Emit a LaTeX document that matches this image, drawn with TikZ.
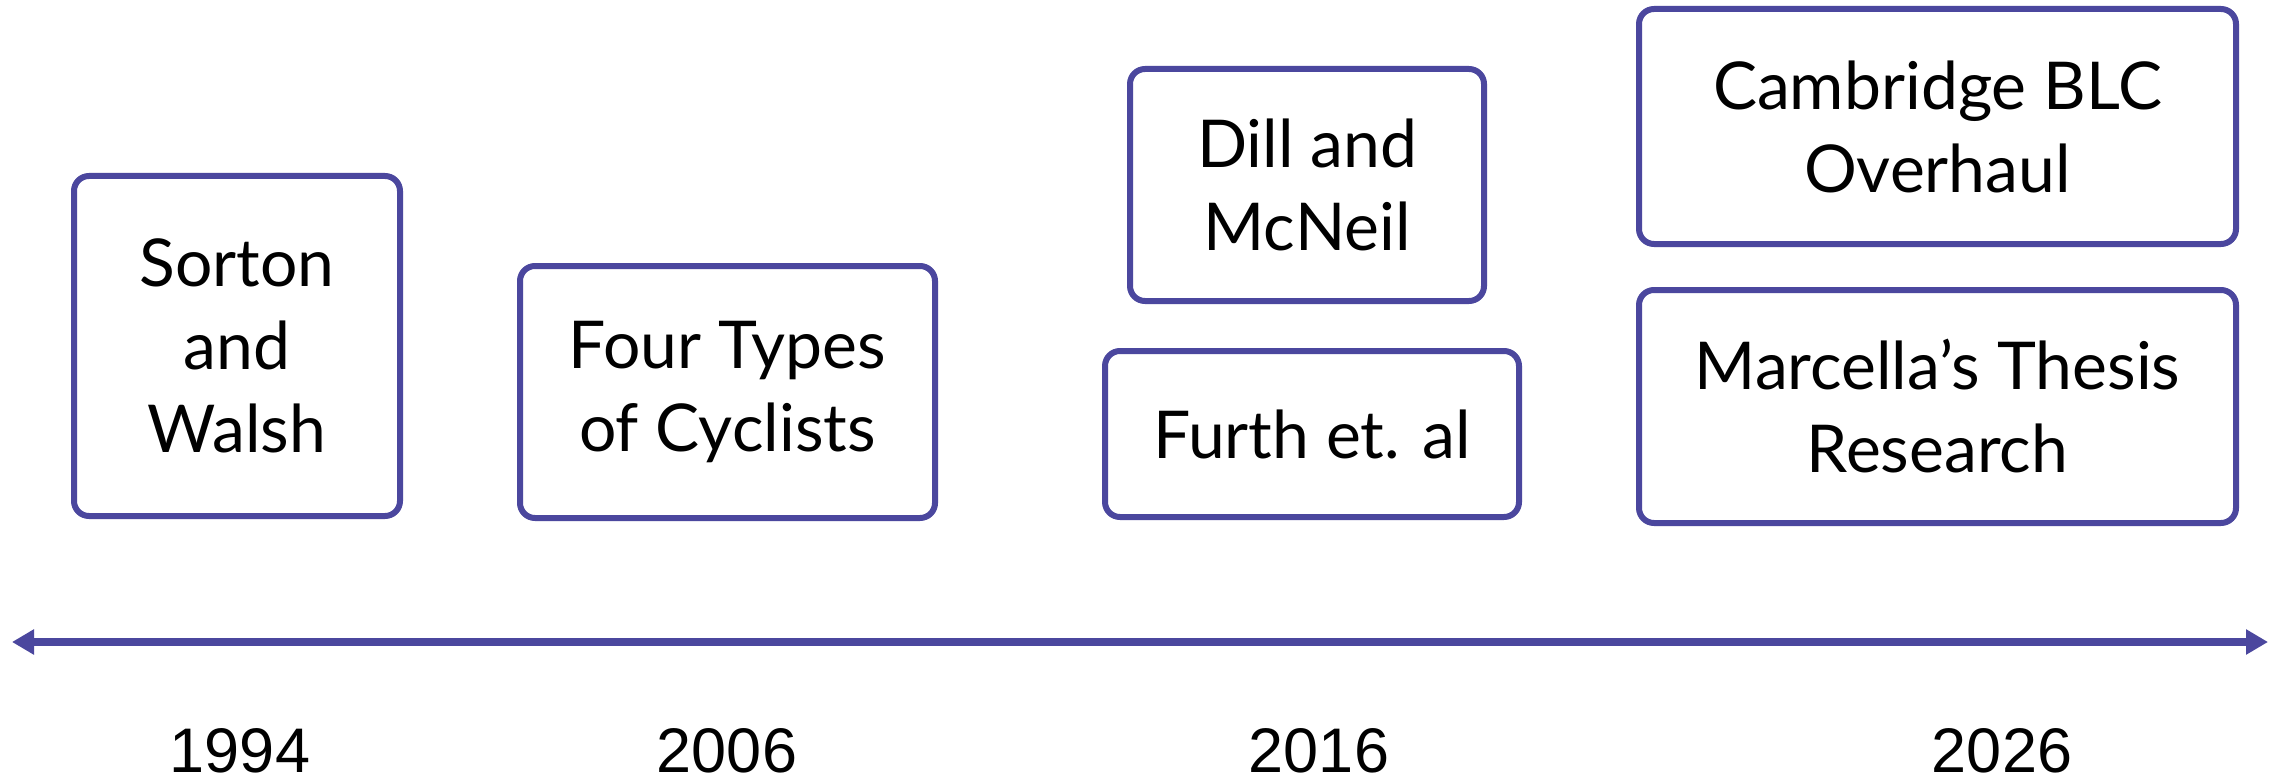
\documentclass[tikz,border=0pt]{standalone}
\usepackage{fontspec}
\setmainfont{Lato}
\newfontfamily\yearfont{Liberation Sans}
\usetikzlibrary{arrows.meta}
\definecolor{boxline}{RGB}{75,71,158}
\tikzset{
  event/.style={draw=boxline, line width=6pt, rounded corners=15pt, fill=white,
    align=center, inner sep=0pt, font=\fontsize{66}{83}\selectfont, text=black},
  yearlabel/.style={anchor=base, inner sep=0pt, font=\yearfont\fontsize{63}{70}\selectfont, text=black},
}
\begin{document}
\begin{tikzpicture}[x=1pt,y=-1pt]
\useasboundingbox (0,0) rectangle (2280,778);
\fill[white] (0,0) rectangle (2280,778);
\node[event, minimum width=326pt, minimum height=340pt] (sorton) at (237,346) {Sorton\\and\\Walsh};
\node[event, minimum width=415pt, minimum height=252pt] (four) at (727.5,392) {Four Types\\of Cyclists};
\node[event, minimum width=354pt, minimum height=232pt] (dill) at (1307,185) {Dill and\\McNeil};
\node[event, minimum width=414pt, minimum height=166pt] (furth) at (1312,434) {Furth et. al};
\node[event, minimum width=597pt, minimum height=235pt] (cam) at (1937.5,126.5) {Cambridge BLC\\Overhaul};
\node[event, minimum width=597pt, minimum height=233pt] (marc) at (1937.5,406.5) {Marcella’s Thesis\\Research};
\coordinate (tl) at (12,642);
\coordinate (tr) at (2268,642);
\draw[boxline, line width=8pt, {Triangle[length=22pt,width=24pt]}-{Triangle[length=22pt,width=24pt]}] (tl) -- (tr);
\node[yearlabel] (y1) at (240,772) {1994};
\node[yearlabel] (y2) at (727,772) {2006};
\node[yearlabel] (y3) at (1319,772) {2016};
\node[yearlabel] (y4) at (2002,772) {2026};
\end{tikzpicture}
\end{document}
